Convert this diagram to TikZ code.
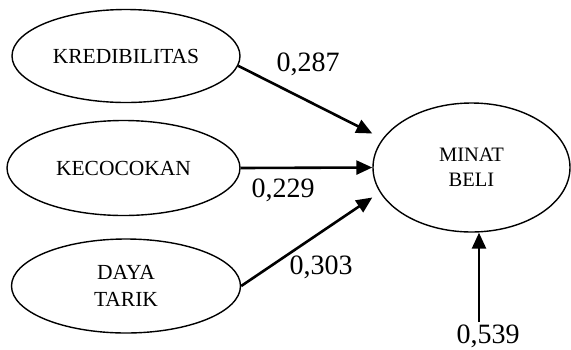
\documentclass[tikz,border=0pt]{standalone}
\usepackage{fontspec}
\setmainfont{Liberation Serif}
\usetikzlibrary{arrows.meta,shapes.geometric}
\begin{document}
\begin{tikzpicture}[x=1pt,y=-1pt,
  var/.style={draw,ellipse,line width=1.4pt,inner sep=0pt,align=center,
    font=\fontsize{21.5}{27}\selectfont},
  path/.style={line width=2.6pt,-{Triangle[length=16pt,width=14pt]}},
  coef/.style={inner sep=0pt,font=\fontsize{28}{30}\selectfont}]
\useasboundingbox (0,0) rectangle (571,349);
\node[var,minimum width=228pt,minimum height=93pt] (k) at (126,56) {KREDIBILITAS};
\node[var,minimum width=233pt,minimum height=95pt] (c) at (123.5,168) {KECOCOKAN};
\node[var,minimum width=229pt,minimum height=94pt] (d) at (126,286) {DAYA\\TARIK};
\node[var,minimum width=197pt,minimum height=129pt,font=\fontsize{20.5}{25}\selectfont] (m) at (471.5,167.5) {MINAT\\BELI};
\node[coef] (l1) at (308,64) {0,287};
\node[coef] (l2) at (283,190) {0,229};
\node[coef] (l3) at (321,267) {0,303};
\node[coef] (l4) at (488,336) {0,539};
\coordinate (e) at (479,322);
\draw[path] (k.-5) -- ([yshift=34pt]m.west);
\draw[path] (c.east) -- (m.west);
\draw[path] (d.east) -- ([yshift=-30pt]m.west);
\draw[path] (e) -- (e |- m.south);
\end{tikzpicture}
\end{document}
